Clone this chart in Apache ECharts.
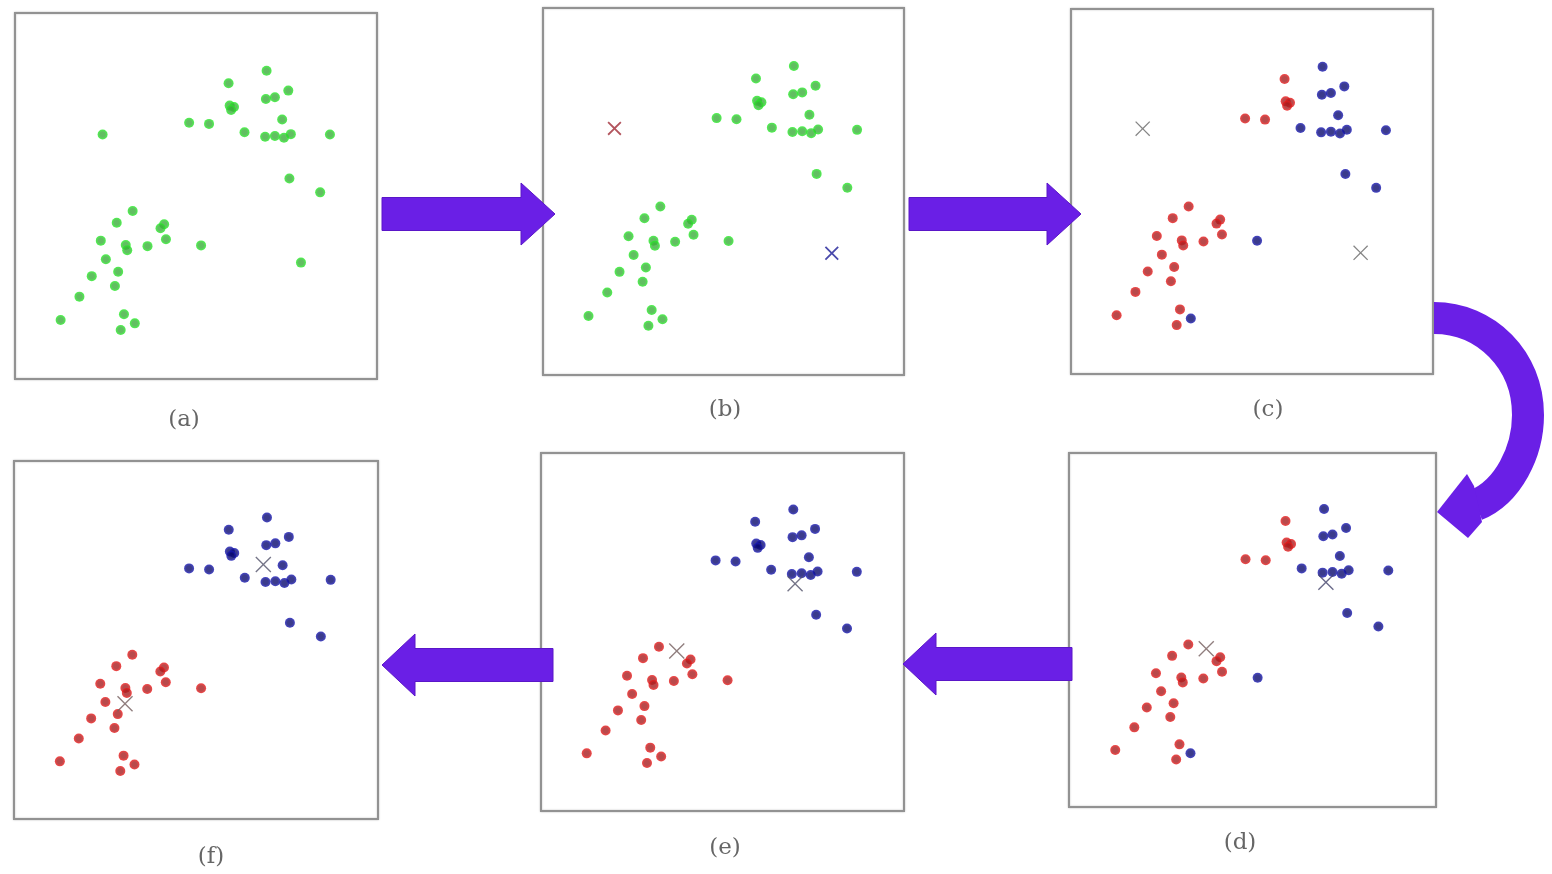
<!DOCTYPE html>
<html>
<head>
<meta charset="utf-8">
<title>k-means steps</title>
<script src="https://cdn.jsdelivr.net/npm/echarts@6/dist/echarts.min.js"></script>
<style>
html, body { margin: 0; padding: 0; background: #fff; }
#chart { width: 1552px; height: 874px; }
</style>
</head>
<body>
<div id="chart"></div>
<script>
// data points (same set in every panel), axis units 0..10
const pointX = [6.95, 5.90, 7.55, 6.93, 7.18, 5.93, 6.05, 5.97, 4.81, 5.36, 7.38, 6.34, 6.91, 7.18, 7.43, 7.62, 8.70, 7.58, 8.43,
    3.25, 2.81, 4.12, 4.02, 4.17, 2.37, 3.06, 3.10, 3.66, 5.14, 2.51, 2.85, 2.12, 2.76, 1.78, 1.26, 3.01, 3.31, 2.92];
const pointY = [8.42, 8.08, 7.88, 7.65, 7.70, 7.47, 7.43, 7.35, 7.00, 6.97, 7.09, 6.74, 6.62, 6.64, 6.59, 6.69, 6.68, 5.48, 5.10,
    4.59, 4.27, 4.23, 4.12, 3.82, 3.78, 3.66, 3.52, 3.63, 3.65, 3.27, 2.93, 2.81, 2.54, 2.25, 1.61, 1.77, 1.52, 1.34];

// two extra points that only show in panel (a)
const extraX = [2.42, 7.90];
const extraY = [6.68, 3.18];

// cluster labels: 0 = red, 1 = blue
const assignFirst = [1, 0, 1, 1, 1, 0, 0, 0, 0, 0, 1, 1, 1, 1, 1, 1, 1, 1, 1,
    0, 0, 0, 0, 0, 0, 0, 0, 0, 1, 0, 0, 0, 0, 0, 0, 0, 1, 0];
const assignSecond = [1, 1, 1, 1, 1, 1, 1, 1, 1, 1, 1, 1, 1, 1, 1, 1, 1, 1, 1,
    0, 0, 0, 0, 0, 0, 0, 0, 0, 0, 0, 0, 0, 0, 0, 0, 0, 0, 0];

// centroids [red, blue] per step
const centroidsInit = [[1.98, 6.72], [8.00, 3.32]];
const centroidsMid = [[3.74, 4.47], [7.00, 6.35]];
const centroidsFinal = [[3.05, 3.22], [6.85, 7.11]];

const panelLabels = ["(a)", "(b)", "(c)", "(d)", "(e)", "(f)"];

const PURPLE = "#6a1fe6";
const CROSS_THICK = "path://M0.9,0L5,4.1L9.1,0L10,0.9L5.9,5L10,9.1L9.1,10L5,5.9L0.9,10L0,9.1L4.1,5L0,0.9Z";
const CROSS_THIN = "path://M0.6,0L5,4.4L9.4,0L10,0.6L5.6,5L10,9.4L9.4,10L5,5.6L0.6,10L0,9.4L4.4,5L0,0.6Z";

const panels = [
    { grid: { left: 15, top: 13, width: 362, height: 366 }, label: [184, 420], assign: null, centroids: null, extra: true },
    { grid: { left: 543, top: 8, width: 361, height: 367 }, label: [725, 410], assign: null, centroids: centroidsInit,
        crossColors: ["#a02a36", "#1c1c96"], cross: CROSS_THICK, crossSize: 14 },
    { grid: { left: 1071, top: 9, width: 362, height: 365 }, label: [1268, 410], assign: assignFirst, centroids: centroidsInit,
        crossColors: ["#666", "#666"], cross: CROSS_THIN, crossSize: 15 },
    { grid: { left: 1069, top: 453, width: 367, height: 354 }, label: [1240, 843], assign: assignFirst, centroids: centroidsMid,
        crossColors: ["#745e5e", "#44446c"], cross: CROSS_THIN, crossSize: 16 },
    { grid: { left: 541, top: 453, width: 363, height: 358 }, label: [725, 848], assign: assignSecond, centroids: centroidsMid,
        crossColors: ["#745e5e", "#52526a"], cross: CROSS_THIN, crossSize: 16 },
    { grid: { left: 14, top: 461, width: 364, height: 358 }, label: [211, 857], assign: assignSecond, centroids: centroidsFinal,
        crossColors: ["#745e5e", "#52526a"], cross: CROSS_THIN, crossSize: 16 }
];

const dotFill = (inner, outer) => ({
    type: "radial", x: 0.5, y: 0.5, r: 0.5,
    colorStops: [{ offset: 0, color: inner }, { offset: 0.5, color: inner }, { offset: 1, color: outer }]
});
const GREEN = dotFill("#3aae3a", "#22f022");
const RED = dotFill("#a81c1e", "#f01818");
const BLUE = dotFill("#0a0a70", "#1818b8");

const grids = [];
const xAxes = [];
const yAxes = [];
const series = [];
const graphics = [];

panels.forEach((panel, i) => {
    grids.push({
        ...panel.grid,
        show: true,
        backgroundColor: "#fff",
        borderColor: "#929292",
        borderWidth: 2,
        shadowBlur: 2,
        shadowColor: "rgba(0,0,0,0.25)"
    });
    xAxes.push({ gridIndex: i, type: "value", min: 0, max: 10, show: false });
    yAxes.push({ gridIndex: i, type: "value", min: 0, max: 10, show: false });

    const pts = pointX.map((x, k) => [x, pointY[k]]);
    const dotSeries = (data, color) => ({
        type: "scatter",
        xAxisIndex: i,
        yAxisIndex: i,
        data,
        symbolSize: 10,
        itemStyle: { color },
        silent: true,
        z: 2
    });
    if (!panel.assign) {
        const data = panel.extra ? pts.concat(extraX.map((x, k) => [x, extraY[k]])) : pts;
        series.push(dotSeries(data, GREEN));
    } else {
        series.push(dotSeries(pts.filter((p, k) => panel.assign[k] === 0), RED));
        series.push(dotSeries(pts.filter((p, k) => panel.assign[k] === 1), BLUE));
    }
    if (panel.centroids) {
        panel.centroids.forEach((c, k) => {
            series.push({
                type: "scatter",
                xAxisIndex: i,
                yAxisIndex: i,
                data: [c],
                symbol: panel.cross,
                symbolSize: panel.crossSize,
                itemStyle: { color: panel.crossColors[k] },
                silent: true,
                z: 3
            });
        });
    }

    graphics.push({
        type: "text",
        x: panel.label[0],
        y: panel.label[1],
        style: {
            text: panelLabels[i],
            font: '23px "DejaVu Serif"',
            fill: "#666",
            align: "center",
            verticalAlign: "middle",
            textAlign: "center",
            textVerticalAlign: "middle"
        }
    });
});

const rightArrow = (x0, tip, yc) => {
    const hb = tip - 34;
    return [[x0, yc - 16.5], [hb, yc - 16.5], [hb, yc - 31], [tip, yc], [hb, yc + 31], [hb, yc + 16.5], [x0, yc + 16.5]];
};
const leftArrow = (x0, tip, yc) => {
    const hb = tip + 33;
    return [[x0, yc - 16.5], [hb, yc - 16.5], [hb, yc - 31], [tip, yc], [hb, yc + 31], [hb, yc + 16.5], [x0, yc + 16.5]];
};

[rightArrow(382, 555, 214), rightArrow(909, 1081, 214), leftArrow(1072, 903, 664), leftArrow(553, 382, 665)].forEach((points) => {
    graphics.push({ type: "polygon", shape: { points }, style: { fill: PURPLE, stroke: "#5a16c8", lineWidth: 1 }, z: 10 });
});

// curved arrow from (c) down to (d): two bezier segments stroked wide, plus a head
[
    { x1: 1434, y1: 318, cpx1: 1486, cpy1: 318, cpx2: 1528, cpy2: 360, x2: 1528, y2: 415 },
    { x1: 1528, y1: 415, cpx1: 1528, cpy1: 452, cpx2: 1508, cpy2: 492, x2: 1476, y2: 505 }
].forEach((shape) => {
    graphics.push({
        type: "bezierCurve",
        shape,
        style: { fill: null, stroke: PURPLE, lineWidth: 32, lineCap: "butt" },
        z: 10
    });
});
graphics.push({
    type: "polygon",
    shape: { points: [[1474, 486], [1467, 474], [1437, 512], [1468, 538], [1482, 522]] },
    style: { fill: PURPLE },
    z: 10
});

const chart = echarts.init(document.getElementById("chart"));
chart.setOption({
    backgroundColor: "#fff",
    animation: false,
    grid: grids,
    xAxis: xAxes,
    yAxis: yAxes,
    series,
    graphic: graphics
});
</script>
</body>
</html>
